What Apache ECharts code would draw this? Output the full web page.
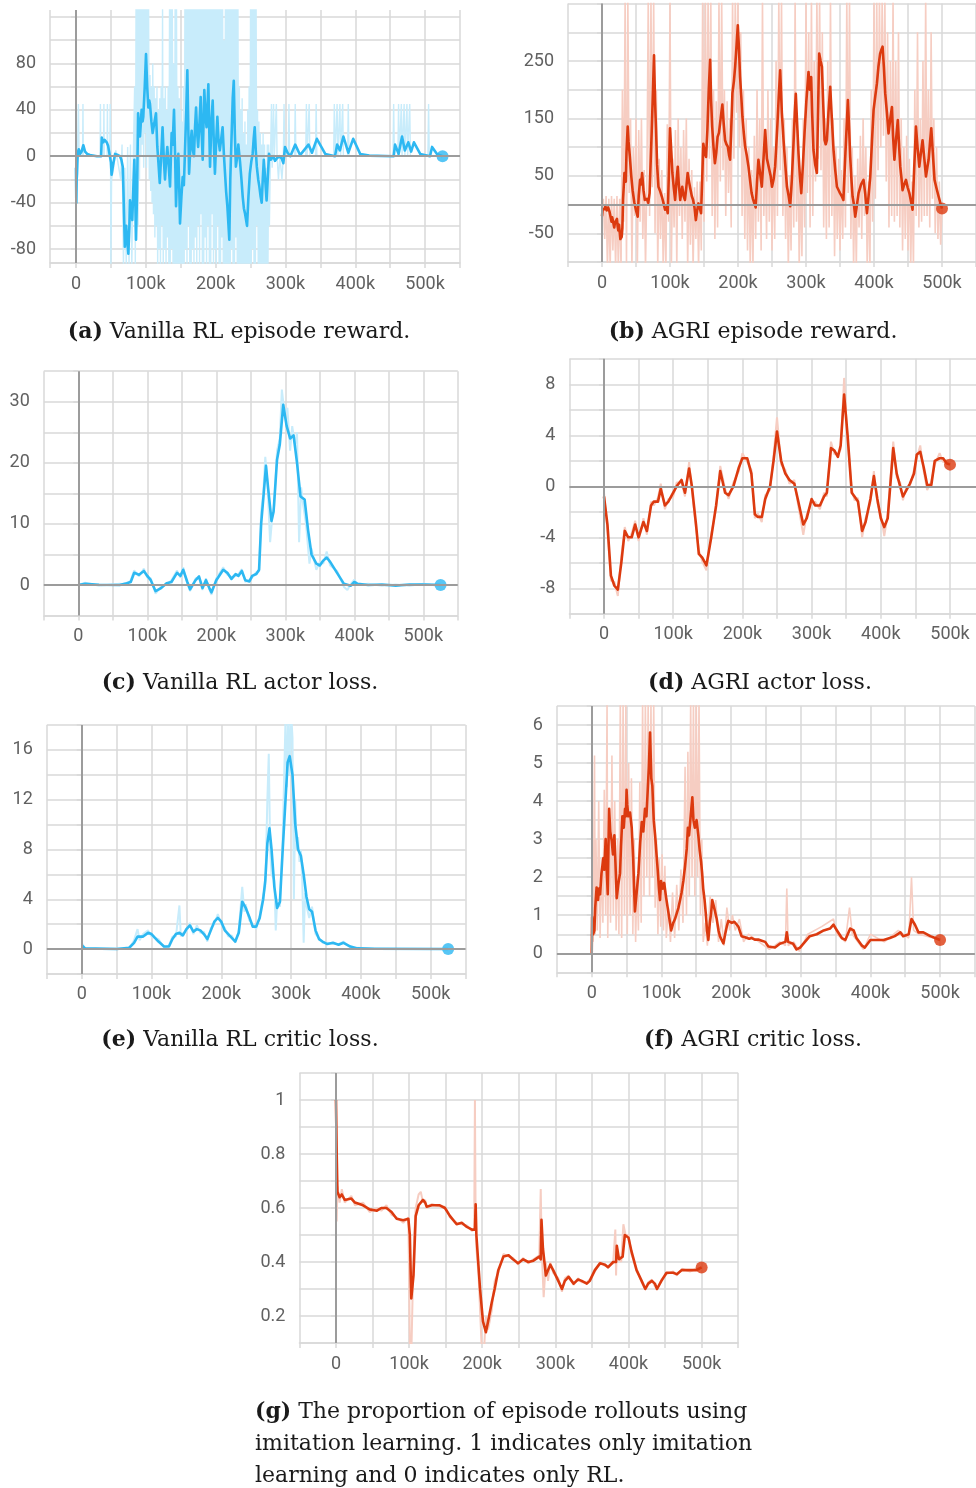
<!DOCTYPE html>
<html><head><meta charset="utf-8">
<script src="https://cdn.jsdelivr.net/npm/echarts@6/dist/echarts.min.js"></script>
<style>html,body{margin:0;padding:0;background:#fff}#c{width:976px;height:1488px}</style>
</head><body><div id="c"></div>
<script>
// ---------------- DATA (x in thousands of steps) ----------------
const xTickLabels = [0,100,200,300,400,500];

// (a) Vanilla RL episode reward
const aYLabels = [-80,-40,0,40,80];
const aYGrid = [-92,-80,-60,-40,-20,0,20,40,60,80,100,120];
const aXGrid = [-37.2,0,50,100,150,200,250,300,350,400,450,500,550];
const aSmooth = [[0,-10],[0.5,-40],[1,-20],[1.5,-15],[2.5,3],[4,6],[6,2],[8,4],[10.5,9.5],[13,4],[16,2],[20,1],[30,0],[36,0],[37,16],[39,12],[41,14],[44,12],[46,9],[48.7,8],[50,-5],[51,-16],[53,-8],[56,2],[60,1],[63,0],[65,-3],[67,-9],[68,-30],[70,-78],[72,-60],[73,-70],[75,-84],[76.5,-60],[77.4,-38],[79,-45],[80.7,-55],[82,-30],[83.6,-3],[85,-40],[86,-72],[87.5,-30],[89,37],[90.5,25],[91.7,17],[93,30],[94,40],[95.5,30],[96.4,34],[98.5,60],[100.3,88],[102,60],[103.6,42],[105,48],[106,45],[108,30],[109.8,20],[112,28],[114.6,37],[116.5,8],[118,-5],[120,-23],[122,0],[124,25],[126,-5],[127.5,-20],[129,-5],[130.8,8],[133,-10],[134.7,-26],[137,20],[138.5,10],[140.4,40],[142,0],[143.3,-43],[145,-10],[146.6,2],[148,-30],[149,-58],[151,-35],[152.8,-18],[154.5,-25],[156,2],[158,40],[159.5,74],[161,20],[162,-15],[164,10],[165.7,22],[167.5,5],[169,0],[170.5,25],[172,42],[173.5,20],[175,8],[177,30],[178.6,51],[180,20],[181.5,-3],[183.8,57],[185.5,35],[187,25],[188.5,45],[189.6,62],[191,20],[192,-9],[194,30],[195.8,48],[197.5,10],[199,-15],[201,15],[202.5,34],[204,15],[206,5],[208,15],[210,25],[212,0],[213.5,-15],[215,-30],[216.8,-43],[218,-55],[219.6,-72],[221,-20],[223,20],[224.5,50],[226,65],[227.5,20],[229,-9],[231,0],[232.5,10],[235,-5],[237,-20],[238.8,-35],[240.5,-45],[242,-49],[245,-60],[247,-35],[249,-15],[251,-5],[253,2],[254.5,15],[256,25],[257.5,5],[259,-9],[261,-20],[262.6,-26],[264.5,-35],[266,-40],[267.5,-20],[269,-3],[271,-20],[273,-38],[275,-15],[276.5,2],[279,-3],[282.7,0],[285,-4],[287.5,-2],[291,0],[294.7,-2],[297,-6],[299.4,8],[303,3],[307,0],[314,10],[321,1],[333,10],[338,3],[345,15],[357,2],[371,0],[374,10],[378,5],[383,17],[390,3],[397,15],[407,2],[420,0.5],[455,0],[457,10],[462,2],[467,17],[471,5],[476,12],[480,4],[484,12],[493,2],[507,0],[510,8],[517,2],[525,0]];
const aRaw = [[0,-40],[0.5,45],[1.5,-5],[3,0],[3.5,45],[4.5,0],[9.5,0],[10,45],[10.5,0],[14,0],[34.5,0],[35,45],[35.5,0],[39.5,0],[40,45],[40.5,0],[44.5,0],[45,45],[45.5,0],[48.5,0],[49,45],[49.5,0],[50,-95],[51,-20],[54,-10],[57,5],[60,-5],[64,-20],[66,10],[68,-95],[70,-10],[72,-95],[74,8],[76,-95],[78,10],[80,-95],[82,-5],
 [84,60],[85,-95],[86,130],[87,-40],[88,130],[89,-60],[90,130],[91,-20],[92,130],[93,0],[94,130],[95,10],[96,130],[97,-10],[98,130],[99,20],[100,130],[101,-10],[102,130],[103,0],[104,130],[105,-20],[106,70],[107,-30],[108,60],[109,-40],[110,80],[111,-50],[112,60],[113,-70],[114,50],[115,-60],[116,60],[117,-95],[118,40],[119,-80],[120,50],[121,-95],[122,60],[123,-60],[124,130],[125,-95],[126,50],[127,-80],[128,60],[129,-95],[130,40],[131,-70],[132,60],[133,-95],[134,130],[135,-95],[136,130],[137,-80],[138,130],[139,-95],[140,80],[141,-95],[142,130],[143,-95],[144,130],[145,-95],[146,60],[147,-95],[148,50],[149,-95],[150,40],[151,-95],[152,30],[153,-95],[154,60],[155,-95],[156,130],[157,-80],[158,130],[159,-95],[160,130],[161,-60],[162,130],[163,-95],[164,130],[165,-95],[166,130],[167,-80],[168,130],[169,-95],[170,130],[171,-70],[172,130],[173,-95],[174,130],[175,-60],[176,130],[177,-95],[178,130],[179,-50],[180,130],[181,-95],[182,130],[183,-95],[184,130],[185,-70],[186,130],[187,-95],[188,130],[189,-60],[190,130],[191,-95],[192,130],[193,-95],[194,130],[195,-50],[196,130],[197,-95],[198,130],[199,-80],[200,130],[201,-95],[202,130],[203,-60],[204,130],[205,-95],[206,130],[207,-95],[208,130],[209,-70],[210,130],[211,-95],[212,100],[213,-95],[214,130],[215,-95],[216,130],[217,-95],[218,130],[219,-95],[220,130],[221,-95],[222,130],[223,-80],[224,130],[225,-95],[226,130],[227,-95],[228,130],[229,-70],[230,130],[231,-95],[232,130],[233,-95],[234,60],[235,-95],[236,40],[237,-95],[238,50],[239,-95],[240,20],[241,-95],[242,30],[243,-95],[244,10],[245,-95],[246,40],[247,-95],[248,60],[249,-95],[250,130],[251,-95],[252,130],[253,-80],[254,130],[255,-95],[256,130],[257,-95],[258,130],[259,-60],[260,40],[261,-95],[262,30],[263,-95],[264,20],[265,-95],[266,10],[267,-95],[268,20],[269,-95],[270,10],[271,-95],[272,-10],[273,-95],[274,10],[275,-95],[276,10],[277,-60],[278,-20],
 [280,45],[281,-10],[283,45],[284,0],[287,45],[288,0],[290,-20],[292,0],[295,-20],[297,0],[298,45],[299,0],[304,0],[305,45],[306,0],[313,0],[314,45],[315,0],[329,0],[330,45],[331,0],[333,0],[334,45],[335,0],[343,0],[344,45],[345,0],[369,0],[370,45],[371,0],[373,0],[374,45],[375,0],[377,0],[378,45],[379,0],[381,0],[382,45],[383,0],[389,0],[390,45],[391,0],[454,0],[455,45],[456,0],[461,0],[462,45],[463,0],[465,0],[466,45],[467,0],[469,0],[470,45],[471,0],[473,0],[474,45],[475,0],[477,0],[478,45],[479,0],[504,0],[505,45],[506,0],[525,0]];

// (b) AGRI episode reward
const bYLabels = [-50,50,150,250];
const bSmooth = [[0,-20],[1,-8],[2,-5],[4,-8],[5,-3],[7,-10],[9,-5],[11,-12],[12,-15],[14,-30],[15,-22],[16,-20],[18,-40],[19,-32],[20,-30],[22,-25],[23,-38],[24,-45],[25,-35],[27,-60],[29,-56],[30,-40],[31,10],[33,55],[35,40],[36,90],[37.8,136],[39,110],[41,83],[43,50],[45,25],[47.5,4],[50,-10],[52.5,-21],[54,15],[56,43],[57.5,35],[59,55],[61,25],[63,8],[66,10],[68,3],[70,20],[73,124],[75,200],[76.5,260],[78,180],[79.5,130],[81,70],[83,31],[85,25],[88,14],[90,5],[92.7,-9],[95,-5],[96.7,-15],[98.5,60],[100,133],[102,90],[103.5,55],[105.5,30],[107.5,8],[109.5,40],[111.4,66],[113,35],[115,8],[116.5,20],[118,31],[120,15],[122,8],[124,30],[126,55],[128,40],[129.5,30],[132,15],[134,8],[136,-5],[138,-27],[140,-10],[141.8,2],[143.5,-5],[145.7,-15],[147.5,50],[149,106],[151,90],[153,83],[155,130],[157,200],[159,252],[160.5,180],[162,136],[164,100],[166,72],[168,90],[170,118],[172,125],[173.7,142],[175.5,160],[177,174],[179,140],[181,112],[183,105],[185,101],[187,85],[188.4,78],[190,130],[191.8,194],[194,215],[195.8,240],[197.5,270],[199.7,312],[201.5,270],[203,223],[205,185],[206.5,153],[208.5,125],[210.5,101],[213,85],[215.4,66],[218,40],[220,20],[222,10],[224,2],[226,-5],[228,40],[230,78],[232.5,55],[235,31],[237.5,80],[240,130],[242.5,80],[245,78],[248,50],[250,31],[252.5,45],[254.6,66],[258,140],[260,190],[262,234],[264.5,160],[267,112],[269.5,70],[272,31],[274.5,15],[276.7,-3],[279,40],[281.6,106],[283.5,160],[285,193],[287,140],[289,89],[291,50],[293,20],[295.5,70],[297.8,124],[300.5,180],[303.7,231],[305.5,200],[307.6,222],[309,160],[311,95],[313.5,70],[316,55],[318,180],[319.4,263],[321.5,250],[323.4,240],[325.5,170],[327.3,112],[329,105],[330.7,112],[333,160],[335.6,205],[338,150],[340.5,95],[343,60],[345.5,31],[348,25],[350,20],[352.5,15],[355,8],[358,90],[361.6,182],[363.5,130],[365,83],[367,40],[368.5,14],[370.5,0],[372.4,-21],[375,0],[377.3,20],[381,35],[384.6,43],[387,20],[389.6,-15],[392,15],[394.5,49],[397,110],[399.4,165],[402,190],[404.3,211],[406.5,240],[409,263],[411,270],[412.6,275],[414.5,240],[416.5,194],[419,160],[421.4,124],[424,150],[426.4,170],[428,120],[430,78],[432.5,115],[435,147],[437,100],[438.6,66],[440.5,45],[442,25],[444.5,35],[447,43],[449.5,30],[452,20],[454.5,5],[456.7,-9],[459,60],[461.7,136],[464,100],[466.6,66],[469,90],[471.4,112],[474,80],[476.4,49],[478.5,65],[480.3,78],[482.5,110],[484.2,133],[486.5,90],[489,43],[492,28],[495,14],[497.5,3],[500,-7]];
const bRaw = [[0,-30],[2,10],[4,-60],[6,15],[8,-110],[10,10],[12,-110],[14,15],[16,-80],[18,10],[20,-110],[22,15],[24,-110],[26,10],[28,-110],[30,200],[32,-30],[34,360],[36,-110],[38,360],[40,20],[42,150],[44,-110],[46,100],[48,-20],[50,150],[52,-110],[54,130],[56,-30],[58,150],[60,-60],[62,60],[64,-110],[66,40],[68,360],[70,-20],[72,360],[74,30],[76,360],[78,-50],[80,200],[82,-110],[84,80],[86,-60],[88,60],[90,-110],[92,20],[94,-110],[96,140],[98,-30],[100,360],[102,-110],[104,80],[106,-40],[108,130],[110,-110],[112,150],[114,-20],[116,100],[118,-60],[120,130],[122,-30],[124,150],[126,-110],[128,80],[130,-70],[132,60],[134,-110],[136,30],[138,-60],[140,40],[142,-110],[144,40],[146,-80],[148,360],[150,-30],[152,360],[154,40],[156,360],[158,80],[160,360],[162,-20],[164,200],[166,-60],[168,180],[170,-40],[172,360],[174,40],[176,360],[178,60],[180,200],[182,-20],[184,180],[186,20],[188,150],[190,-40],[192,360],[194,80],[196,360],[198,160],[200,360],[202,100],[204,300],[206,-20],[208,200],[210,-60],[212,150],[214,-80],[216,100],[218,-110],[220,60],[222,-110],[224,120],[226,-60],[228,200],[230,-30],[232,150],[234,-80],[236,360],[238,-20],[240,120],[242,-60],[244,200],[246,-30],[248,150],[250,-80],[252,100],[254,-60],[256,250],[258,-20],[260,360],[262,60],[264,360],[266,-20],[268,150],[270,-60],[272,100],[274,-110],[276,50],[278,-80],[280,150],[282,-40],[284,360],[286,-30],[288,130],[290,-110],[292,50],[294,-90],[296,150],[298,-40],[300,360],[302,20],[304,300],[306,-40],[308,360],[310,-20],[312,250],[314,40],[316,360],[318,80],[320,360],[322,60],[324,300],[326,-40],[328,150],[330,-60],[332,250],[334,-40],[336,360],[338,-20],[340,150],[342,-90],[344,100],[346,-60],[348,80],[350,-80],[352,60],[354,-60],[356,150],[358,-40],[360,360],[362,20],[364,360],[366,-60],[368,100],[370,-110],[372,50],[374,-110],[376,80],[378,-40],[380,120],[382,-60],[384,150],[386,-20],[388,100],[390,-110],[392,40],[394,-110],[396,200],[398,-30],[400,360],[402,10],[404,360],[406,60],[408,360],[410,100],[412,360],[414,120],[416,360],[418,40],[420,300],[422,-40],[424,250],[426,-20],[428,360],[430,-30],[432,250],[434,-20],[436,300],[438,-40],[440,150],[442,-80],[444,100],[446,-60],[448,120],[450,-80],[452,80],[454,-110],[456,40],[458,-110],[460,200],[462,-20],[464,300],[466,-40],[468,150],[470,-30],[472,250],[474,-20],[476,360],[478,-20],[480,200],[482,-40],[484,300],[486,10],[488,150],[490,-50],[492,100],[494,-60],[496,40],[498,-70],[500,-7]];

// (c) Vanilla RL actor loss
const cYLabels = [0,10,20,30];
const cSmooth = [[0,0],[10,0.2],[30,0.05],[60,0],[70,0.3],[76,0.5],[78,0.8],[81,2],[88,1.7],[95,2.3],[100,1.5],[105,0.8],[112,-1],[120,-0.5],[128,0.3],[135,0.5],[143,2],[148,1.5],[152,2.5],[158,0.5],[162,-0.7],[170,0.8],[175,1.4],[180,-0.5],[185,0.8],[190,-0.5],[193,-1.2],[200,0.8],[210,2.5],[216,2],[222,1],[228,1.8],[232,1.5],[237,2.3],[242,0.8],[248,0.6],[252,1.5],[258,1.8],[262,2.5],[265,10],[268,14],[272,19.5],[275,16],[280,10.5],[283,12],[288,20.5],[292,23],[297,29.5],[302,26],[307,24],[312,24.5],[317,20],[322,14.5],[328,14],[333,9],[338,5],[345,3.5],[350,3.2],[355,4],[360,4.5],[365,3.8],[375,2],[385,0.2],[395,-0.1],[400,0.5],[405,0.2],[420,0],[440,0.1],[460,-0.1],[480,0.1],[500,0.1],[525,0]];
const cRaw = [[0,0],[10,0.4],[30,-0.1],[60,0.2],[70,0.1],[76,0.8],[78,0.5],[81,2.4],[88,1.4],[95,2.7],[100,1.2],[105,1.1],[112,-1.4],[120,-0.2],[128,0.1],[135,0.8],[143,2.4],[148,1.2],[152,2.9],[158,0.2],[162,-1],[170,1.1],[175,1.2],[180,-0.8],[185,1.1],[190,-0.8],[193,-1.6],[200,1.1],[210,2.9],[216,1.7],[222,1.3],[228,1.5],[232,1.8],[237,2.6],[242,0.5],[248,0.9],[252,1.2],[258,2.1],[262,2.2],[265,12],[268,15],[271,21],[274,17],[278,7],[281,11],[284,13],[288,22],[292,24],[295,32],[299,28],[303,29],[307,22],[310,26],[314,23],[317,25],[320,7],[323,16],[326,13],[330,10],[335,3.5],[338,6],[345,2.5],[350,3.8],[355,3.5],[360,5.5],[365,3.2],[375,2.3],[385,-0.3],[390,-0.8],[395,0.2],[400,0.9],[405,0],[420,0.2],[440,-0.1],[460,0.1],[480,-0.1],[500,0.2],[525,0]];

// (d) AGRI actor loss
const dYLabels = [-8,-4,0,4,8];
const dSmooth = [[0,-0.8],[5,-3],[10,-7],[15,-7.8],[20,-8.1],[25,-6],[30,-3.5],[35,-4],[40,-4],[45,-3],[50,-4],[57,-2.8],[62,-3.5],[68,-1.5],[72,-1.2],[78,-1.2],[82,-0.2],[88,-1.5],[93,-1.2],[100,-0.5],[105,0],[112,0.5],[117,-0.5],[123,1.4],[127,0],[133,-3],[137,-5.3],[142,-5.6],[148,-6.2],[155,-4],[162,-1.5],[168,1.2],[175,-0.5],[180,-0.7],[187,0],[195,1.5],[200,2.2],[207,2.2],[213,1],[218,-2.2],[222,-2.4],[228,-2.4],[233,-1],[240,0],[245,2],[250,4.3],[256,2],[262,1],[268,0.5],[275,0.2],[280,-1],[288,-3],[293,-2.5],[300,-1],[305,-1.5],[312,-1.5],[318,-0.8],[322,-0.5],[328,3],[333,2.8],[338,2.3],[342,3.2],[347,7.2],[352,4],[358,-0.5],[362,-0.8],[367,-1.2],[373,-3.5],[378,-2.8],[385,-1],[390,0.8],[395,-1],[400,-2.5],[405,-3.2],[410,-2.5],[418,3],[423,1],[428,0],[432,-0.8],[437,-0.3],[442,0.2],[448,1],[452,2.5],[457,2.7],[462,1.5],[467,0.1],[473,0.1],[478,2],[485,2.2],[490,2.2],[495,1.8],[500,1.7]];
const dRaw = [[0,-0.5],[5,-3.5],[10,-7.4],[15,-7.5],[20,-8.6],[25,-5.5],[30,-3.2],[35,-4.3],[40,-3.7],[45,-2.7],[50,-4.3],[57,-2.5],[62,-3.8],[68,-1.2],[72,-1.5],[78,-0.9],[82,0.2],[88,-1.8],[93,-1],[100,-0.8],[105,0.3],[112,0.3],[117,-0.8],[123,1.9],[127,-0.3],[133,-3.3],[137,-5],[142,-5.9],[148,-6.6],[155,-3.7],[162,-1.8],[168,1.6],[175,-0.2],[180,-1],[187,0.3],[195,1.2],[200,2.6],[207,1.9],[213,1.3],[218,-2.5],[222,-2.1],[228,-2.8],[233,-0.7],[240,-0.3],[245,2.4],[250,5.4],[256,1.7],[262,1.3],[268,0.2],[275,0.5],[280,-1.3],[288,-3.8],[293,-2.2],[300,-1.3],[305,-1.2],[312,-1.8],[318,-0.5],[322,-0.8],[328,3.5],[333,2.5],[338,2.6],[342,2.9],[347,8.5],[352,3.6],[358,-0.2],[362,-1.1],[367,-0.9],[373,-4],[378,-2.5],[385,-1.3],[390,1.2],[395,-1.3],[400,-2.2],[405,-3.9],[410,-2.2],[418,3.5],[423,0.7],[428,0.3],[432,-1.1],[437,-0.1],[442,0],[448,1.3],[452,2.2],[457,3.2],[462,1.2],[467,-0.3],[473,0.4],[478,1.7],[485,2.6],[490,1.9],[495,2.1],[500,1.7]];

// (e) Vanilla RL critic loss
const eYLabels = [0,4,8,12,16];
const eSmooth = [[0,0.3],[5,0.05],[50,0],[68,0.1],[75,0.5],[80,1],[88,1],[95,1.3],[100,1.2],[110,0.6],[118,0.2],[125,0.2],[130,0.8],[135,1.2],[140,1.3],[145,1.1],[150,1.6],[155,1.9],[160,1.4],[165,1.6],[170,1.5],[175,1.2],[180,0.8],[185,1.5],[190,2.2],[195,2.5],[200,2.2],[205,1.5],[210,1.2],[215,0.9],[220,0.6],[225,1.3],[230,3.8],[235,3.3],[240,2.6],[245,1.8],[250,1.8],[255,2.5],[260,4],[263,5.5],[266,8.5],[269,9.7],[272,8],[276,5],[280,3.3],[284,3.8],[288,8],[292,12],[295,15],[298,15.5],[302,14],[306,10],[310,8],[314,7.5],[318,6],[322,4.2],[326,3.2],[330,3],[335,1.5],[340,0.8],[345,0.6],[352,0.4],[360,0.5],[368,0.35],[375,0.5],[385,0.2],[395,0.05],[420,0.02],[525,0]];
const eRaw = [[0,0.5],[5,0],[50,0.05],[68,0],[75,0.7],[80,1.6],[83,0.7],[88,1.2],[95,1.5],[100,1],[110,0.8],[118,0.1],[125,0.3],[130,1],[135,1],[140,3.5],[142,1],[145,1.3],[150,1.4],[155,2.1],[160,1.2],[165,1.9],[170,1.3],[175,1.4],[180,0.6],[185,1.7],[190,2],[195,2.8],[200,2],[205,1.7],[210,1],[215,1.1],[220,0.5],[225,1.5],[230,5],[233,3],[235,3.6],[240,2.3],[245,2],[250,1.6],[255,2.7],[260,4.3],[263,5],[266,12],[268,15.7],[270,8],[272,6],[276,5.5],[278,1.5],[280,3.8],[284,3.4],[288,9],[292,18.5],[294,13],[296,19],[298,14],[300,19],[302,17],[304,4],[306,12],[308,8],[310,9],[312,7],[314,8],[316,5.5],[318,0.5],[320,4.5],[322,3.5],[326,2.5],[330,3.4],[335,1.2],[340,0.9],[345,0.5],[352,0.5],[360,0.4],[368,0.4],[375,0.6],[385,0.1],[395,0.1],[420,0],[525,0]];

// (f) AGRI critic loss
const fYLabels = [0,1,2,3,4,5,6];
const fSmooth = [[0,0],[0.5,0.96],[2,0.5],[3.8,0.6],[5,1.2],[7,1.73],[9,1.4],[10.5,1.7],[12,1.55],[14,2.1],[16.7,2.5],[18,2.2],[20,3],[21.5,2.2],[23,1.55],[24,2.8],[25,3.8],[26.5,3.2],[28.7,2.95],[30.5,2.6],[32.5,3.1],[34,2.4],[35.9,1.45],[38,1.8],[40.6,2.1],[42,2.8],[44,3.6],[46,3.3],[47.8,3.8],[49,3.6],[50,4.3],[51,3.9],[52.5,3.6],[55,3.7],[57.4,3.3],[59.5,2.5],[61,1.6],[62,1.1],[64,1.5],[67,2.1],[69.5,2.9],[71.8,3.45],[74,3.2],[76.5,3.8],[78.5,3.6],[80.4,4.3],[82,4.9],[83.7,5.8],[85.5,4.6],[87,4.4],[89,3.5],[91,3.1],[93,2.6],[94.7,2.2],[96.5,1.7],[98,1.4],[99.5,1.9],[100.5,1.85],[102,1.7],[104,1.85],[106.5,1.5],[109,1.2],[111.5,0.9],[114,0.6],[117,0.8],[119.5,0.9],[122,1.05],[124.5,1.2],[126.8,1.4],[129,1.6],[131.5,1.9],[134,2.3],[136.4,2.75],[138,3.3],[139.7,3.1],[142,3.6],[144.4,4.1],[146,3.5],[148,3.3],[150.5,3.5],[153,3.1],[155,2.7],[157,2.4],[158.5,2.1],[160,1.7],[162,1.4],[163.7,1.05],[165.5,0.6],[167.4,0.35],[169.5,0.8],[171.3,1.05],[173,1.4],[174.6,1.4],[177,1.1],[179.4,0.9],[182,0.6],[184,0.45],[186.5,0.35],[189,0.26],[191.5,0.5],[193.8,0.7],[196,0.85],[198.5,0.87],[201,0.8],[204.7,0.83],[207.5,0.78],[210.5,0.7],[213,0.75],[215,0.45],[217.6,0.5],[220,0.42],[222.5,0.4],[226,0.38],[229.7,0.4],[234,0.36],[239,0.36],[244,0.33],[249,0.3],[253.5,0.18],[256,0.15],[263,0.15],[270,0.25],[278,0.3],[280,0.55],[282,0.3],[289,0.25],[294,0.1],[299,0.15],[306,0.3],[313,0.45],[323,0.5],[333,0.6],[342,0.65],[347,0.75],[352,0.6],[359,0.4],[364,0.35],[371,0.65],[376,0.6],[380,0.4],[388,0.2],[392,0.15],[400,0.35],[409,0.35],[419,0.35],[428,0.4],[435,0.45],[443,0.55],[447,0.45],[455,0.5],[459,0.9],[464,0.75],[469,0.55],[476,0.55],[486,0.45],[493,0.4],[500,0.35]];
const fRaw = [[0,0],[1,1],[2,0.3],[4,5.2],[5,0.5],[6,3],[8,0.6],[10,4],[12,0.4],[14,2.5],[16,0.8],[18,4.3],[20,1],[22,6.6],[23,0.4],[25,3.5],[27,0.8],[29,5.2],[31,1],[33,4],[35,0.6],[37,3],[39,0.5],[41,6.6],[43,0.4],[45,6.6],[47,1],[49,6.6],[51,0.5],[53,5],[55,1],[57,4.6],[59,0.5],[61,3],[63,0.3],[65,2],[67,0.6],[69,4.5],[71,0.8],[73,6.6],[75,1.5],[77,6.6],[79,2],[81,6.6],[83,1.5],[85,6.6],[87,2],[89,6.6],[91,1.2],[93,3],[95,0.5],[97,2.5],[99,0.7],[101,2.6],[103,0.6],[105,2.3],[107,0.4],[110,1.2],[113,0.3],[116,1.6],[119,0.4],[122,1.8],[125,0.6],[128,2.2],[131,0.8],[134,4.9],[136,1],[138,5.3],[140,1.5],[142,6.6],[144,2],[146,6.6],[148,1.5],[150,6.6],[152,2],[154,6.6],[156,1],[158,3],[160,0.3],[163,0.8],[166,0.2],[170,1.5],[174,0.8],[178,1.4],[182,0.3],[186,0.9],[190,0.2],[194,1.2],[198,0.6],[202,1],[206,0.6],[212,0.9],[218,0.3],[225,0.5],[240,0.3],[255,0.1],[270,0.3],[278,0.2],[280,1.7],[282,0.2],[290,0.3],[298,0.05],[310,0.5],[330,0.7],[347,0.9],[352,0.5],[364,0.3],[370,1.2],[374,0.5],[390,0.1],[400,0.5],[420,0.3],[440,0.6],[455,0.4],[459,2],[462,0.6],[470,0.5],[490,0.4],[500,0.35]];

// (g) Proportion of rollouts using imitation learning
const gYLabels = [0.2,0.4,0.6,0.8,1];
const gSmooth = [[0,1.0],[1,0.8],[2,0.66],[5,0.64],[8,0.65],[12,0.63],[21,0.635],[26,0.62],[37,0.61],[46,0.595],[56,0.59],[62,0.6],[69,0.6],[76,0.585],[83,0.56],[92,0.555],[99,0.56],[101,0.5],[103,0.265],[106,0.35],[109,0.57],[113,0.61],[119,0.63],[122,0.62],[124,0.605],[131,0.61],[142,0.61],[149,0.6],[156,0.57],[165,0.54],[172,0.545],[179,0.53],[186,0.52],[190,0.52],[191,0.614],[192,0.5],[197,0.3],[201,0.18],[205,0.14],[208,0.18],[213,0.25],[217,0.3],[222,0.37],[229,0.42],[236,0.425],[242,0.41],[249,0.395],[256,0.41],[263,0.4],[270,0.405],[278,0.42],[280,0.41],[281,0.556],[283,0.45],[287,0.35],[293,0.39],[297,0.37],[304,0.33],[309,0.3],[313,0.33],[318,0.345],[325,0.32],[331,0.335],[336,0.33],[343,0.32],[347,0.33],[354,0.37],[361,0.395],[368,0.39],[372,0.38],[379,0.4],[383,0.4],[384,0.46],[387,0.41],[392,0.42],[395,0.5],[400,0.49],[404,0.44],[411,0.37],[418,0.33],[423,0.3],[427,0.32],[432,0.33],[436,0.32],[439,0.3],[445,0.33],[452,0.36],[461,0.36],[466,0.355],[473,0.37],[484,0.37],[493,0.37],[500,0.38]];
const gRaw = [[0,1],[1,0.55],[2,0.68],[5,0.62],[8,0.67],[12,0.62],[21,0.645],[26,0.61],[37,0.62],[46,0.585],[56,0.6],[62,0.59],[69,0.61],[76,0.575],[83,0.565],[92,0.545],[99,0.565],[101,0.1],[103,0.05],[105,0.3],[107,0.5],[109,0.6],[113,0.65],[116,0.66],[119,0.62],[122,0.63],[124,0.6],[131,0.615],[142,0.605],[149,0.605],[156,0.565],[165,0.545],[172,0.54],[179,0.535],[186,0.515],[189,0.52],[190,1.0],[191,0.55],[192,0.45],[195,0.35],[199,0.1],[202,0.05],[205,0.2],[208,0.15],[213,0.22],[217,0.33],[222,0.36],[229,0.43],[236,0.42],[242,0.415],[249,0.39],[256,0.415],[263,0.395],[270,0.41],[278,0.425],[280,0.67],[281,0.5],[282,0.4],[284,0.27],[287,0.4],[290,0.33],[293,0.4],[297,0.36],[304,0.34],[309,0.29],[313,0.34],[318,0.35],[325,0.315],[331,0.34],[336,0.325],[343,0.325],[347,0.335],[354,0.365],[361,0.4],[368,0.385],[372,0.385],[379,0.395],[382,0.52],[383,0.35],[384,0.46],[386,0.42],[390,0.4],[393,0.54],[396,0.5],[400,0.5],[404,0.43],[411,0.375],[418,0.325],[423,0.3],[427,0.325],[432,0.335],[436,0.31],[439,0.3],[445,0.335],[452,0.355],[461,0.365],[466,0.35],[473,0.375],[484,0.365],[493,0.375],[500,0.38]];

// ---------------- STYLE / LAYOUT ----------------
const BLUE='#2db8f2', LBLUE='#c8ecfb', RED='#dc3a0f', LRED='#f6cdc2';
const GRIDC='#d9d9d9', ZEROC='#9c9c9c', LABELC='#616161';
const FONT='Roboto';

const panels = [
 {grid:{left:50,top:10,width:410,height:253}, xMin:-37.2, xMax:550, xGrid:aXGrid, yMin:-92, yMax:126, yGrid:aYGrid, yLabels:aYLabels, smooth:aSmooth, raw:aRaw, c:BLUE, l:LBLUE, zeroY:true, rw:1.4},
 {grid:{left:568,top:3.6,width:408,height:258.4}, xMin:-50, xMax:550, yMin:-100, yMax:350, yInt:50, yLabels:bYLabels, smooth:bSmooth, raw:bRaw, c:RED, l:LRED, zeroY:true, rw:1.6},
 {grid:{left:43.8,top:371.2,width:414,height:244.4}, xMin:-50, xMax:550, yMin:-5, yMax:35, yInt:5, yLabels:cYLabels, smooth:cSmooth, raw:cRaw, c:BLUE, l:LBLUE, zeroY:true, rw:2},
 {grid:{left:569.4,top:358.8,width:415.2,height:255}, xMin:-50, xMax:550, yMin:-10, yMax:10, yInt:2, yLabels:dYLabels, smooth:dSmooth, raw:dRaw, c:RED, l:LRED, zeroY:true, rw:2},
 {grid:{left:46.8,top:725.1,width:418.8,height:248.8}, xMin:-50, xMax:550, yMin:-2, yMax:18, yInt:2, yLabels:eYLabels, smooth:eSmooth, raw:eRaw, c:BLUE, l:LBLUE, zeroY:true, rw:2},
 {grid:{left:556.9,top:706,width:418,height:266.3}, xMin:-50, xMax:550, yMin:-0.5, yMax:6.5, yInt:0.5, yLabels:fYLabels, smooth:fSmooth, raw:fRaw, c:RED, l:LRED, zeroY:true, rw:1.6},
 {grid:{left:299.4,top:1073,width:438.8,height:270}, xMin:-50, xMax:550, yMin:0.1, yMax:1.1, yInt:0.1, yLabels:gYLabels, smooth:gSmooth, raw:gRaw, c:RED, l:LRED, zeroY:false, rw:2, yFmt:v=>(Math.abs(v-1)<1e-9?'1':v.toFixed(1))}
];

const grids=[], xAxes=[], yAxes=[], series=[];
panels.forEach((p,i)=>{
  grids.push(Object.assign({outerBoundsMode:'none', containLabel:false}, p.grid));
  const xa = {type:'value', gridIndex:i, min:p.xMin, max:p.xMax,
    axisLine:{show:true,onZero:false,lineStyle:{color:GRIDC,width:1.5}},
    axisTick:{show:true,length:5,lineStyle:{color:GRIDC,width:1.5}},
    splitLine:{show:true,lineStyle:{color:GRIDC,width:1.5}},
    axisLabel:{color:LABELC,fontSize:18,fontFamily:FONT,margin:12,customValues:xTickLabels,
      formatter:v=>(v===0?'0':v+'k')}};
  if(p.xGrid){ xa.axisTick.customValues=p.xGrid; } else { xa.interval=50; }
  xAxes.push(xa);
  const ya = {type:'value', gridIndex:i, min:p.yMin, max:p.yMax,
    axisLine:{show:false},
    axisTick:{show:true,length:5,lineStyle:{color:GRIDC,width:1.5}},
    splitLine:{show:true,lineStyle:{color:GRIDC,width:1.5}},
    axisLabel:{color:LABELC,fontSize:18,fontFamily:FONT,margin:14,customValues:p.yLabels,
      formatter:p.yFmt||(v=>String(v))}};
  if(p.yGrid){ ya.axisTick.customValues=p.yGrid; } else { ya.interval=p.yInt; }
  yAxes.push(ya);
  series.push({type:'line', xAxisIndex:i, yAxisIndex:i, data:p.raw, showSymbol:false, symbol:'none',
    lineStyle:{color:p.l,width:p.rw}, z:1, silent:true, clip:true,
    markLine:{silent:true, symbol:['none','none'], label:{show:false}, animation:false,
      lineStyle:{color:ZEROC,width:2,type:'solid'}, emphasis:{disabled:true},
      data: p.zeroY ? [{yAxis:0},{xAxis:0}] : [{xAxis:0}]}});
  series.push({type:'line', xAxisIndex:i, yAxisIndex:i, data:p.smooth, showSymbol:false, symbol:'none',
    lineStyle:{color:p.c,width:2.6,join:'round'}, z:3, silent:true, clip:true});
  series.push({type:'scatter', xAxisIndex:i, yAxisIndex:i, data:[p.smooth[p.smooth.length-1]],
    symbolSize:12, itemStyle:{color:p.c}, z:4, silent:true});
});

const CAPFONT='"DejaVu Serif"';
const capStyle = (text,x,y,align)=>({type:'text', x:x, y:y, z:10, silent:true,
  style:{text:text, fontFamily:CAPFONT, fontSize:22, fill:'#1a1a1a', align:align||'center', verticalAlign:'middle', lineHeight:32,
    rich:{b:{fontFamily:CAPFONT, fontSize:22, fontWeight:'bold', fill:'#1a1a1a', lineHeight:32}}}});
const captions = [
  capStyle('{b|(a)} Vanilla RL episode reward.',239,332),
  capStyle('{b|(b)} AGRI episode reward.',753,332),
  capStyle('{b|(c)} Vanilla RL actor loss.',240,683),
  capStyle('{b|(d)} AGRI actor loss.',760,683),
  capStyle('{b|(e)} Vanilla RL critic loss.',240,1040),
  capStyle('{b|(f)} AGRI critic loss.',753,1040),
  capStyle('{b|(g)} The proportion of episode rollouts using\nimitation learning. 1 indicates only imitation\nlearning and 0 indicates only RL.',255,1444,'left')
];

const chart = echarts.init(document.getElementById('c'), null, {renderer:'canvas'});
chart.setOption({animation:false, backgroundColor:'#fff', grid:grids, xAxis:xAxes, yAxis:yAxes, series:series, graphic:captions});
</script></body></html>
